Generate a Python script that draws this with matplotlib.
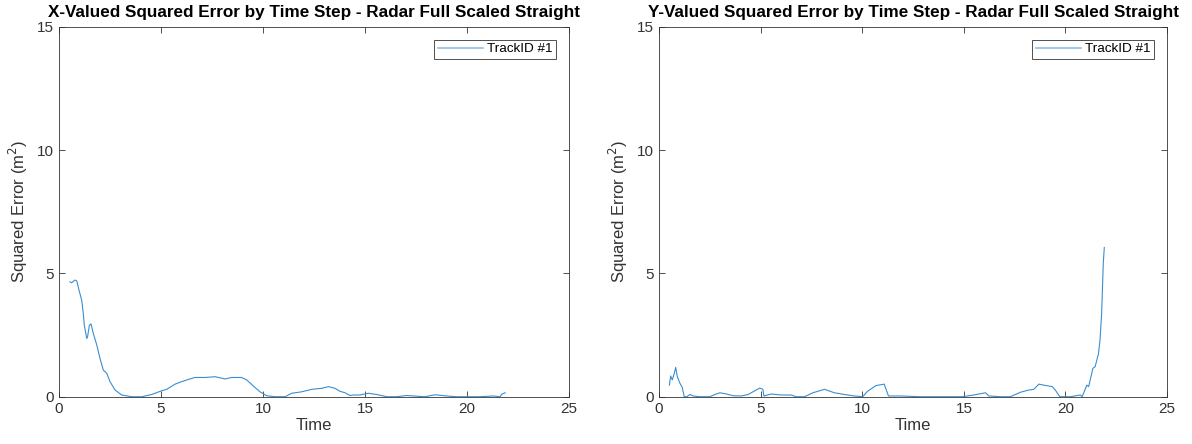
import matplotlib.pyplot as plt

plt.rcParams["font.family"] = ["Liberation Sans", "DejaVu Sans"]

# x-position squared error, track 1
time_x = [0.54, 0.62, 0.78, 0.87, 0.98, 1.11, 1.19, 1.24, 1.36, 1.40, 1.49, 1.57,
          1.68, 1.85, 2.01, 2.17, 2.34, 2.50, 2.75, 3.07, 3.56, 4.05, 4.54, 5.03,
          5.28, 5.69, 6.01, 6.34, 6.67, 7.16, 7.65, 8.14, 8.46, 8.95, 9.20, 9.53,
          9.85, 10.18, 10.59, 11.08, 11.41, 11.90, 12.39, 12.88, 13.20, 13.53,
          13.77, 14.02, 14.26, 14.43, 14.75, 15.16, 15.57, 16.06, 16.55, 17.04,
          17.70, 17.94, 18.43, 19.00, 19.49, 20.15, 20.64, 21.29, 21.62, 21.70,
          21.87]
err_x = [4.66, 4.62, 4.73, 4.70, 4.32, 3.92, 3.38, 2.90, 2.36, 2.43, 2.90, 2.95,
         2.57, 2.10, 1.55, 1.08, 0.95, 0.61, 0.27, 0.07, 0.00, 0.00, 0.09, 0.24,
         0.30, 0.51, 0.61, 0.70, 0.78, 0.78, 0.81, 0.72, 0.78, 0.78, 0.68, 0.43,
         0.20, 0.04, 0.00, 0.00, 0.14, 0.20, 0.30, 0.34, 0.41, 0.34,
         0.22, 0.16, 0.05, 0.07, 0.07, 0.14, 0.09, 0.00, 0.00, 0.05,
         0.01, 0.00, 0.08, 0.03, 0.00, 0.00, 0.00, 0.03, 0.00, 0.10,
         0.16]

# y-position squared error, track 1
time_y = [0.51, 0.57, 0.65, 0.75, 0.82, 0.90, 1.03, 1.14, 1.24, 1.36, 1.52, 1.68,
          2.01, 2.50, 2.75, 2.99, 3.32, 3.64, 4.05, 4.38, 4.71, 4.95, 5.11, 5.16,
          5.52, 6.01, 6.50, 6.75, 7.16, 7.57, 8.14, 8.63, 9.12, 9.61, 10.02, 10.26,
          10.67, 11.08, 11.29, 11.90, 12.88, 13.86, 14.92, 15.49, 16.06, 16.23,
          16.80, 17.29, 17.78, 18.19, 18.44, 18.69, 18.93, 19.35, 19.50, 19.72,
          20.24, 20.73, 20.82, 21.05, 21.14, 21.35, 21.46, 21.62, 21.70, 21.78,
          21.86, 21.91]
err_y = [0.47, 0.84, 0.68, 0.95, 1.19, 0.81, 0.54, 0.38, 0.00, 0.00, 0.09, 0.03,
         0.00, 0.00, 0.09, 0.16, 0.11, 0.04, 0.03, 0.09, 0.24, 0.35, 0.30, 0.03,
         0.11, 0.07, 0.07, 0.00, 0.00, 0.16, 0.30, 0.16, 0.09, 0.03, 0.00, 0.22,
         0.45, 0.51, 0.03, 0.03, 0.00, 0.00, 0.00, 0.07, 0.16, 0.03,
         0.00, 0.00, 0.18, 0.27, 0.30, 0.51, 0.47, 0.41, 0.27, 0.00,
         0.00, 0.07, 0.00, 0.47, 0.41, 1.15, 1.22, 1.73, 2.30, 3.38,
         5.41, 6.05]

titles = ["X-Valued Squared Error by Time Step - Radar Full Scaled Straight",
          "Y-Valued Squared Error by Time Step - Radar Full Scaled Straight"]
track_label = "TrackID #1"

line_color = "#3a8ed0"
axis_color = "#333333"

fig = plt.figure(figsize=(11.92, 4.44), dpi=100)
ax_left = fig.add_axes([0.0495, 0.1065, 0.4279, 0.8333])
ax_right = fig.add_axes([0.5529, 0.1065, 0.4262, 0.8333])

for ax, t, e, title in [(ax_left, time_x, err_x, titles[0]),
                        (ax_right, time_y, err_y, titles[1])]:
    ax.plot(t, e, color=line_color, linewidth=0.8, label=track_label)
    ax.set_xlim(0, 25)
    ax.set_ylim(0, 15)
    ax.set_xticks([0, 5, 10, 15, 20, 25])
    ax.set_yticks([0, 5, 10, 15])
    ax.tick_params(direction="in", length=4, width=0.6, top=True, right=True,
                   labelsize=11, colors=axis_color, pad=4)
    for spine in ax.spines.values():
        spine.set_color(axis_color)
        spine.set_linewidth(0.6)
    ax.set_title(title, fontsize=12.3, fontweight="bold", pad=7)
    ax.set_xlabel("Time", fontsize=12, color=axis_color, labelpad=1)
    ax.set_ylabel("Squared Error (m$^2$)", fontsize=12, color=axis_color, labelpad=5)
    leg = ax.legend(loc="upper right", fontsize=9.7, fancybox=False, framealpha=1,
                    handlelength=3.4, handletextpad=0.3, borderpad=0.25,
                    borderaxespad=0.95)
    leg.get_frame().set_edgecolor(axis_color)
    leg.get_frame().set_linewidth(0.6)
    leg.get_lines()[0].set_color("#8cc0e8")
    leg.get_lines()[0].set_linewidth(1.2)

fig.savefig("out.png", dpi=100)
